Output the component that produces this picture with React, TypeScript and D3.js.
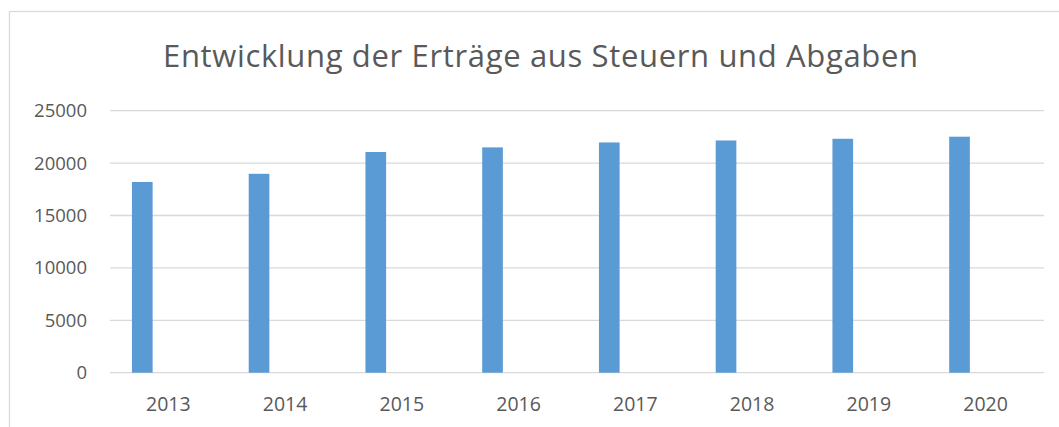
import React from "react";
import * as d3 from "d3";

const years = ["2013", "2014", "2015", "2016", "2017", "2018", "2019", "2020"];
const values = [18200, 18980, 21060, 21500, 21970, 22160, 22320, 22520];
const yTicks = [0, 5000, 10000, 15000, 20000, 25000];
const title = "Entwicklung der Erträge aus Steuern und Abgaben";

const W = 1059;
const H = 427;

export default function App() {
  const x = d3.scaleBand<string>().domain(years).range([110, 1044]).padding(0);
  const y = d3.scaleLinear().domain([0, 25000]).range([372.7, 110.7]);
  const bw = x.bandwidth();
  const font = "'Open Sans', sans-serif";
  const textColor = "#595959";
  return (
    <svg
      width={W}
      height={H}
      style={{ position: "absolute", left: 0, top: 0, background: "#fff" }}
    >
      <rect x={0} y={0} width={W} height={H} fill="#fff" />
      <rect x={9.5} y={11.5} width={1200} height={600} fill="#fff" stroke="#D9D9D9" strokeWidth={1.3} />
      <text
        x={540.5}
        y={67}
        textAnchor="middle"
        fontFamily={font}
        fontSize={31}
        textLength={755}
        lengthAdjust="spacing"
        fill={textColor}
      >
        {title}
      </text>
      {yTicks.map((t) => (
        <g key={t}>
          <line x1={110} x2={1044} y1={y(t)} y2={y(t)} stroke="#D9D9D9" strokeWidth={1.3} />
          <text
            x={87}
            y={y(t) + 6.5}
            textAnchor="end"
            fontFamily={font}
            fontSize={18.5}
            fill={textColor}
          >
            {t}
          </text>
        </g>
      ))}
      {years.map((yr, i) => (
        <rect
          key={yr}
          x={(x(yr) as number) + 0.188 * bw}
          y={y(values[i])}
          width={0.177 * bw}
          height={y(0) - y(values[i])}
          fill="#5B9BD5"
        />
      ))}
      {years.map((yr) => (
        <text
          key={yr}
          x={(x(yr) as number) + bw / 2}
          y={411}
          textAnchor="middle"
          fontFamily={font}
          fontSize={19.5}
          fill={textColor}
        >
          {yr}
        </text>
      ))}
    </svg>
  );
}
